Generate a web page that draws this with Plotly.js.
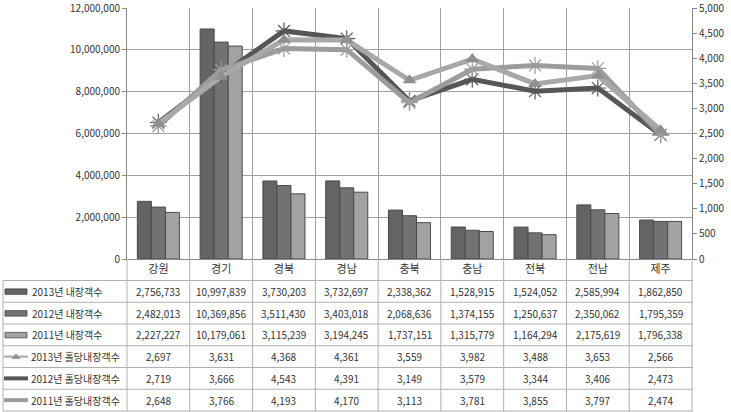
<!DOCTYPE html>
<html><head><meta charset="utf-8">
<script src="https://cdn.plot.ly/plotly-3.0.1.min.js"></script>
<style>html,body{margin:0;padding:0;background:#fff}</style>
</head><body><div id="chart" style="width:731px;height:412px"></div>
<script>
const regions = ['강원','경기','경북','경남','충북','충남','전북','전남','제주'];
const visitors2013 = [2756733,10997839,3730203,3732697,2338362,1528915,1524052,2585994,1862850];
const visitors2012 = [2482013,10369856,3511430,3403018,2068636,1374155,1250637,2350062,1795359];
const visitors2011 = [2227227,10179061,3115239,3194245,1737151,1315779,1164294,2175619,1796338];
const perHole2013 = [2697,3631,4368,4361,3559,3982,3488,3653,2566];
const perHole2012 = [2719,3666,4543,4391,3149,3579,3344,3406,2473];
const perHole2011 = [2648,3766,4193,4170,3113,3781,3855,3797,2474];
const seriesNames = ['2013년 내장객수','2012년 내장객수','2011년 내장객수','2013년 홀당내장객수','2012년 홀당내장객수','2011년 홀당내장객수'];

const FONT = '"Noto Sans CJK KR", "Noto Sans", sans-serif';
const W = 731, H = 412, L = 127, R = 692, T = 8, B = 259;
const pw = R - L, ph = B - T;
const px = v => (v - L) / pw;
const py = v => (B - v) / ph;

const barColors = ['#646464', '#727272', '#a2a2a2'];
const barData = [visitors2013, visitors2012, visitors2011];
const traces = [];
barData.forEach((vals, i) => {
  traces.push({
    type: 'bar', x: regions, y: vals, name: seriesNames[i],
    marker: {color: barColors[i], line: {color: '#4a4a4a', width: 1}},
    hoverinfo: 'skip'
  });
});
traces.push({
  type: 'scatter', mode: 'lines+markers', x: regions, y: perHole2012, yaxis: 'y2', name: seriesNames[4],
  line: {color: '#565656', width: 5},
  marker: {symbol: 'asterisk-open', size: 14, line: {color: '#9a9a9a', width: 1.2}}
});
traces.push({
  type: 'scatter', mode: 'lines+markers', x: regions, y: perHole2011, yaxis: 'y2', name: seriesNames[5],
  line: {color: '#9c9c9c', width: 5},
  marker: {symbol: 'asterisk-open', size: 14, line: {color: '#8a8a8a', width: 1.2}}
});
traces.push({
  type: 'scatter', mode: 'lines+markers', x: regions, y: perHole2013, yaxis: 'y2', name: seriesNames[3],
  line: {color: '#a8a8a8', width: 5},
  marker: {symbol: 'triangle-up', size: 12, color: '#8f8f8f'}
});

// table geometry (pixels)
const tableTop = 280.5, rowH = 21.75, nRows = 6, tableLeft = 3;
const tableBottom = tableTop + rowH * nRows;
const lineCol = '#b0b0b0';
const shapes = [];
for (let k = 0; k <= nRows; k++) {
  const yy = py(tableTop + rowH * k);
  shapes.push({type: 'line', xref: 'paper', yref: 'paper', x0: px(tableLeft), x1: px(R + 1), y0: yy, y1: yy,
    line: {color: lineCol, width: 1}});
}
shapes.push({type: 'line', xref: 'paper', yref: 'paper', x0: px(tableLeft), x1: px(tableLeft),
  y0: py(tableTop), y1: py(tableBottom), line: {color: lineCol, width: 1}});
for (let i = 0; i <= regions.length; i++) {
  const xx = i / regions.length;
  shapes.push({type: 'line', xref: 'paper', yref: 'paper', x0: xx, x1: xx, y0: 0, y1: py(tableBottom),
    line: {color: lineCol, width: 1}});
}
// legend icons in first column
const annotations = [];
const tableRows = [visitors2013, visitors2012, visitors2011, perHole2013, perHole2012, perHole2011];
tableRows.forEach((vals, r) => {
  const cy = tableTop + rowH * (r + 0.5);
  if (r < 3) {
    shapes.push({type: 'rect', xref: 'paper', yref: 'paper', x0: px(5), x1: px(27), y0: py(cy - 2.5), y1: py(cy + 3),
      fillcolor: barColors[r], line: {color: '#4a4a4a', width: 0.8}});
  } else if (r === 3) {
    shapes.push({type: 'line', xref: 'paper', yref: 'paper', x0: px(4), x1: px(28), y0: py(cy), y1: py(cy),
      line: {color: '#a8a8a8', width: 2}});
    shapes.push({type: 'path', xref: 'paper', yref: 'paper',
      path: `M${px(12)},${py(cy + 2)} L${px(20)},${py(cy + 2)} L${px(16)},${py(cy - 3)} Z`,
      fillcolor: '#8f8f8f', line: {color: '#8f8f8f', width: 0.5}});
  } else {
    shapes.push({type: 'line', xref: 'paper', yref: 'paper', x0: px(4), x1: px(28), y0: py(cy), y1: py(cy),
      line: {color: r === 4 ? '#565656' : '#9c9c9c', width: 4}});
  }
  annotations.push({xref: 'paper', yref: 'paper', x: px(r < 3 ? 30 : 29), y: py(cy), xanchor: 'left', yanchor: 'middle',
    text: seriesNames[r], showarrow: false, font: {family: FONT, size: 10, color: '#333'}});
  vals.forEach((v, i) => {
    annotations.push({xref: 'x', yref: 'paper', x: regions[i], y: py(cy), xanchor: 'center', yanchor: 'middle',
      text: v.toLocaleString('en-US'), showarrow: false, font: {family: FONT, size: 10, color: '#333'}});
  });
});

const layout = {
  width: W, height: H,
  margin: {l: L, r: W - R, t: T, b: H - B, pad: 0},
  paper_bgcolor: '#fff', plot_bgcolor: '#fff',
  showlegend: false,
  barmode: 'group', bargap: 0.33, bargroupgap: 0,
  font: {family: FONT, size: 10, color: '#404040'},
  xaxis: {type: 'category', tickson: 'boundaries', showgrid: true, gridcolor: '#a0a0a0', gridwidth: 1,
    ticks: '', showline: true, linecolor: '#8a8a8a', tickfont: {family: FONT, size: 11, color: '#333'},
    range: [-0.5, regions.length - 0.5], fixedrange: true},
  yaxis: {range: [0, 12000000], dtick: 2000000, tickformat: ',d', showgrid: true, gridcolor: '#a0a0a0',
    zeroline: false, showline: true, linecolor: '#8a8a8a', ticks: 'outside', ticklen: 4, tickcolor: '#8a8a8a',
    ticklabeloverflow: 'allow', tickfont: {family: FONT, size: 10, color: '#333'}, fixedrange: true},
  yaxis2: {overlaying: 'y', side: 'right', range: [0, 5000], dtick: 500, tickformat: ',d', showgrid: false,
    zeroline: false, showline: true, linecolor: '#8a8a8a', ticks: 'outside', ticklen: 4, tickcolor: '#8a8a8a',
    ticklabeloverflow: 'allow', tickfont: {family: FONT, size: 10, color: '#333'}, fixedrange: true},
  shapes: shapes,
  annotations: annotations
};
Plotly.newPlot('chart', traces, layout, {displayModeBar: false, staticPlot: true});
</script></body></html>
